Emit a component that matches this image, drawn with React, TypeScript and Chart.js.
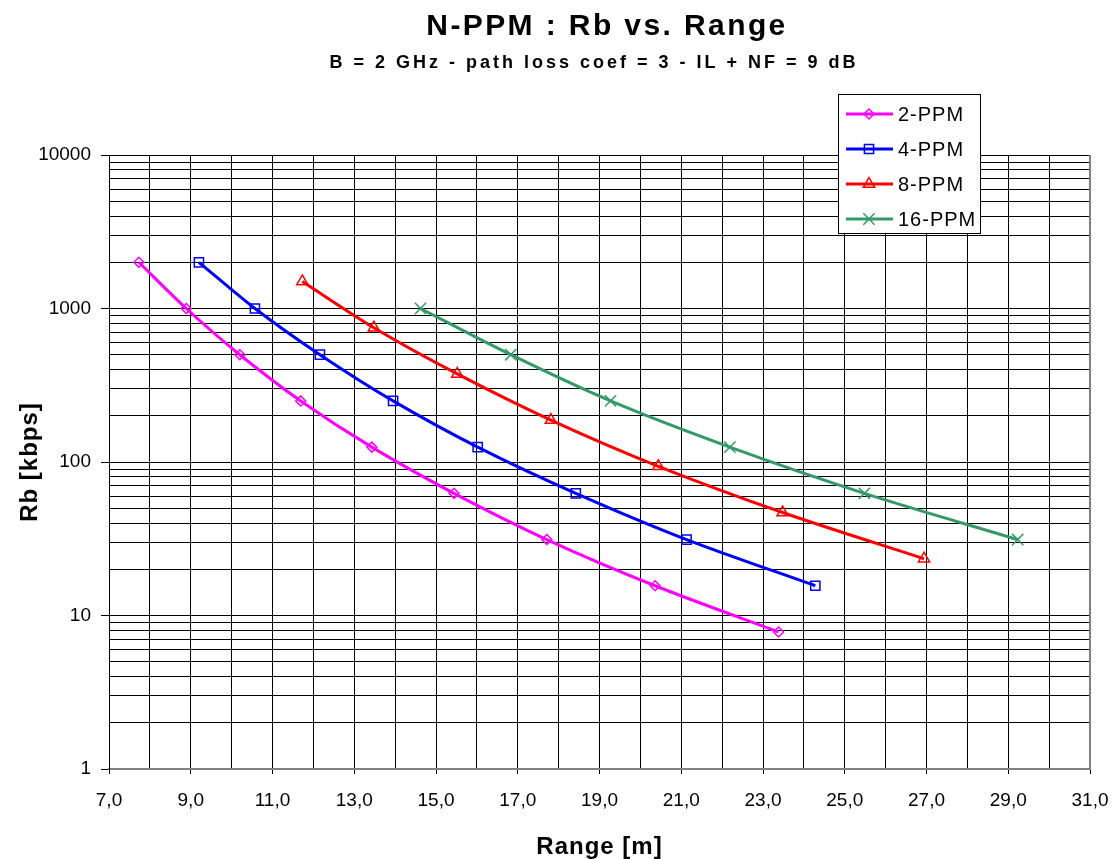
import React, { useEffect, useRef } from 'react';
import { Chart, registerables } from 'chart.js';
import { drawPoint } from 'chart.js/helpers';

Chart.register(...registerables);

// ---- data ----
const seriesNames = ['2-PPM', '4-PPM', '8-PPM', '16-PPM'];
const seriesColors = ['#FF00FF', '#0000FF', '#FF0000', '#339966'];
const seriesMarkers = ['rectRot', 'rect', 'triangle', 'crossRot'];
const markerRadius = [5, 6.5, 6.5, 8];

const range2 = [7.73, 8.89, 10.2, 11.69, 13.43, 15.44, 17.71, 20.36, 23.38];
const rb2 = [2000, 1000, 500, 250, 125, 62.5, 31.25, 15.625, 7.8125];
const range4 = [9.2, 10.57, 12.16, 13.95, 16.02, 18.42, 21.13, 24.28];
const rb4 = [2000, 1000, 500, 250, 125, 62.5, 31.25, 15.625];
const range8 = [11.73, 13.48, 15.52, 17.81, 20.44, 23.48, 26.94];
const rb8 = [1500, 750, 375, 187.5, 93.75, 46.875, 23.4375];
const range16 = [14.62, 16.83, 19.27, 22.19, 25.48, 29.23];
const rb16 = [1000, 500, 250, 125, 62.5, 31.25];

const xTickValues = [7, 9, 11, 13, 15, 17, 19, 21, 23, 25, 27, 29, 31];
const xTickLabels = ['7,0', '9,0', '11,0', '13,0', '15,0', '17,0', '19,0', '21,0', '23,0', '25,0', '27,0', '29,0', '31,0'];
const yDecades = [1, 10, 100, 1000, 10000];
const yDecadeLabels = ['1', '10', '100', '1000', '10000'];
const yMinorSteps = [1, 2, 3, 4, 5, 6, 7, 8, 9];

const chartTitle = 'N-PPM : Rb vs. Range';
const chartSubtitle = 'B = 2 GHz - path loss coef = 3 - IL + NF = 9 dB';
const xAxisTitle = 'Range [m]';
const yAxisTitle = 'Rb [kbps]';

const FONT = '"Liberation Sans", Arial, sans-serif';

const allRanges = [range2, range4, range8, range16];
const allRbs = [rb2, rb4, rb8, rb16];

const yGridValues: number[] = [];
yDecades.slice(0, -1).forEach((d) => yMinorSteps.forEach((m) => yGridValues.push(d * m)));
yGridValues.push(yDecades[yDecades.length - 1]);

const decorPlugin = {
  id: 'decor',
  afterDraw(chart: any) {
    const ctx = chart.ctx as CanvasRenderingContext2D & { letterSpacing?: string };
    const { left, right, top, bottom } = chart.chartArea;
    ctx.save();
    // plot area border (right, grey)
    ctx.strokeStyle = '#808080';
    ctx.lineWidth = 2;
    ctx.beginPath();
    ctx.moveTo(right, top);
    ctx.lineTo(right, bottom + 1);
    ctx.stroke();

    // titles
    ctx.fillStyle = '#000';
    ctx.textAlign = 'center';
    ctx.textBaseline = 'alphabetic';
    ctx.font = `bold 30px ${FONT}`;
    ctx.letterSpacing = '2.4px';
    ctx.fillText(chartTitle, 607, 35);
    ctx.font = `bold 18px ${FONT}`;
    ctx.letterSpacing = '3px';
    ctx.fillText(chartSubtitle, 594, 68);

    // axis titles
    ctx.font = `bold 24px ${FONT}`;
    ctx.letterSpacing = '1px';
    ctx.fillText(xAxisTitle, (left + right) / 2, 854);
    ctx.save();
    ctx.translate(37, (top + bottom) / 2);
    ctx.rotate(-Math.PI / 2);
    ctx.letterSpacing = '1px';
    ctx.fillText(yAxisTitle, 0, 0);
    ctx.restore();

    // legend
    const bx = 838.5, by = 94.5, bw = 142, bh = 139;
    ctx.fillStyle = '#fff';
    ctx.fillRect(bx, by, bw, bh);
    ctx.strokeStyle = '#000';
    ctx.lineWidth = 1;
    ctx.strokeRect(bx, by, bw, bh);
    seriesNames.forEach((name, i) => {
      const y = 114 + i * 35;
      ctx.strokeStyle = seriesColors[i];
      ctx.lineWidth = 3;
      ctx.beginPath();
      ctx.moveTo(846, y);
      ctx.lineTo(893, y);
      ctx.stroke();
      ctx.fillStyle = 'rgba(0,0,0,0)';
      ctx.strokeStyle = seriesColors[i];
      ctx.lineWidth = 1.5;
      drawPoint(ctx, { pointStyle: seriesMarkers[i] as any, radius: markerRadius[i], borderWidth: 1.5, rotation: 0 } as any, 869, y);
      ctx.fillStyle = '#000';
      ctx.font = `20px ${FONT}`;
      ctx.letterSpacing = '1px';
      ctx.textAlign = 'left';
      ctx.textBaseline = 'middle';
      ctx.fillText(name, 898, y + 1);
    });
    ctx.restore();
  },
};

export default function App() {
  const canvasRef = useRef<HTMLCanvasElement | null>(null);

  useEffect(() => {
    if (!canvasRef.current) return;
    const datasets = seriesNames.map((name, i) => ({
      label: name,
      data: allRanges[i].map((x, j) => ({ x, y: allRbs[i][j] })),
      borderColor: seriesColors[i],
      backgroundColor: 'rgba(0,0,0,0)',
      borderWidth: 3,
      pointStyle: seriesMarkers[i],
      pointRadius: markerRadius[i],
      pointBorderWidth: 1.5,
      pointBorderColor: seriesColors[i],
      pointBackgroundColor: 'rgba(0,0,0,0)',
      tension: 0.3,
      fill: false,
    }));

    const chart = new Chart(canvasRef.current, {
      type: 'line',
      data: { datasets } as any,
      plugins: [decorPlugin],
      options: {
        animation: false,
        responsive: false,
        devicePixelRatio: 1,
        layout: { padding: { top: 155, right: 27, bottom: 0, left: 0 } },
        plugins: {
          legend: { display: false },
          title: { display: false },
          tooltip: { enabled: false },
        },
        scales: {
          x: {
            type: 'linear',
            min: 7,
            max: 31,
            afterFit: (s: any) => {
              s.height = 90;
              s.paddingLeft = 0;
              s.paddingRight = 0;
            },
            ticks: {
              stepSize: 1,
              autoSkip: false,
              maxRotation: 0,
              padding: 15,
              color: '#000',
              font: { family: FONT, size: 19 },
              callback: (v: any) => {
                const idx = xTickValues.indexOf(Math.round(Number(v) * 1000) / 1000);
                return idx >= 0 ? xTickLabels[idx] : '';
              },
            },
            grid: {
              color: '#000',
              lineWidth: 1,
              tickLength: 5,
              tickColor: (c: any) =>
                c.tick && xTickValues.includes(Math.round(c.tick.value * 1000) / 1000) ? '#000' : 'rgba(0,0,0,0)',
            },
            border: { color: '#808080', width: 2 },
          },
          y: {
            type: 'logarithmic',
            min: 1,
            max: 10000,
            afterFit: (s: any) => {
              s.width = 109;
              s.paddingTop = 0;
              s.paddingBottom = 0;
            },
            afterBuildTicks: (s: any) => {
              s.ticks = yGridValues.map((v) => ({ value: v }));
            },
            ticks: {
              autoSkip: false,
              padding: 10,
              color: '#000',
              font: { family: FONT, size: 19 },
              callback: (v: any) => {
                const idx = yDecades.indexOf(Number(v));
                return idx >= 0 ? yDecadeLabels[idx] : '';
              },
            },
            grid: {
              color: '#000',
              lineWidth: 1,
              tickLength: 8,
              tickColor: (c: any) => (c.tick && yDecades.includes(c.tick.value) ? '#000' : 'rgba(0,0,0,0)'),
            },
            border: { color: '#000', width: 1 },
          },
        },
      } as any,
    });
    return () => chart.destroy();
  }, []);

  return (
    <div style={{ position: 'fixed', left: 0, top: 0, width: 1117, height: 859, background: '#fff' }}>
      <canvas ref={canvasRef} width={1117} height={859} style={{ width: 1117, height: 859, display: 'block' }} />
    </div>
  );
}
